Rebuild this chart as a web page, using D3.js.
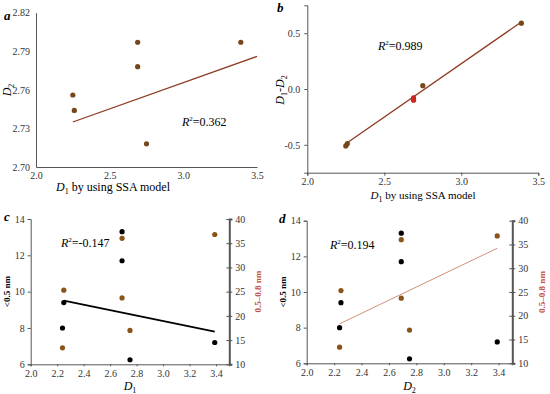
<!DOCTYPE html>
<html>
<head>
<meta charset="utf-8">
<script src="https://cdn.jsdelivr.net/npm/d3@7"></script>
<style>
  body { margin: 0; background: #fff; }
  svg text { font-family: "Liberation Serif", "DejaVu Serif", serif; }
  .axis path, .axis line { stroke: #555; }
  .axis text { fill: #333; font-size: 10px; }
</style>
</head>
<body>
<svg width="550" height="394"></svg>
<script>
// panel a / b : D1 (SSA) vs D2 and D1-D2
var aX = [2.25, 2.26, 2.69, 2.69, 2.75, 3.39];
var aY = [2.756, 2.744, 2.797, 2.778, 2.718, 2.797];
var aFit = [[2.25, 2.735], [3.5, 2.786]];
var bY = [-0.51, -0.49, -0.10, -0.08, 0.03, 0.59];
var bRed = [false, false, true, true, false, false];
var bFit = [[2.25, -0.49], [3.39, 0.60]];

// panel c / d : pore volume fractions
var cdX = [2.69, 2.69, 2.25, 2.24, 3.39, 2.75];
var small = [13.3, 11.7, 9.4, 8.0, 7.2, 6.25];   // <0.5 nm
var midX = [2.69, 3.39, 2.25, 2.69, 2.75, 2.24];
var mid = [36.0, 36.8, 25.3, 23.7, 17.0, 13.4];  // 0.5-0.8 nm
var cFit = [[2.25, 9.5], [3.39, 7.8]];
var dFit = [[2.24, 18.3], [3.39, 34.2]];

var ticksA = [2.70, 2.73, 2.76, 2.79, 2.82];
var ticksB = [-0.5, 0.0, 0.5];
var ticksX1 = [2.0, 2.5, 3.0, 3.5];
var ticksX2 = [2.0, 2.2, 2.4, 2.6, 2.8, 3.0, 3.2, 3.4];
var ticksL = [6, 8, 10, 12, 14];
var ticksR = [10, 15, 20, 25, 30, 35, 40];

var svg = d3.select("svg");
var dotCol = "#76461a";
var lineCol = "#8e3b22";

var fmt1 = (d) => d.toFixed(1);
var fmt2 = (d) => d.toFixed(2);

function fixFont(g) {
  g.attr("font-family", null);
}

function panelLetter(x, y, t) {
  svg.append("text").attr("x", x).attr("y", y)
    .attr("font-size", 13).attr("font-weight", "bold").attr("font-style", "italic")
    .text(t);
}

function subLabel(x, y, base, sub, rest, rot, size) {
  size = size || 12;
  var t = svg.append("text").attr("font-size", size).attr("text-anchor", "middle")
    .attr("transform", "translate(" + x + "," + y + ")" + (rot ? " rotate(-90)" : ""));
  t.append("tspan").attr("font-style", "italic").text(base);
  t.append("tspan").attr("font-size", 8).attr("dy", 3).text(sub);
  if (rest) t.append("tspan").attr("dy", -3).text(rest);
  return t;
}

function r2(x, y, val) {
  var t = svg.append("text").attr("x", x).attr("y", y).attr("font-size", 12);
  t.append("tspan").attr("font-style", "italic").text("R");
  t.append("tspan").attr("font-size", 7).attr("dy", -5).text("2");
  t.append("tspan").attr("dy", 5).text("=" + val);
}

function dots(xs, ys, sx, sy, col) {
  svg.append("g").selectAll("circle").data(xs).enter().append("circle")
    .attr("cx", (d) => sx(d))
    .attr("cy", (d, i) => sy(ys[i]))
    .attr("r", 2.6)
    .attr("fill", typeof col === "function" ? (d, i) => col(i) : col);
}

function fitLine(pts, sx, sy, col, w) {
  svg.append("line")
    .attr("x1", sx(pts[0][0])).attr("y1", sy(pts[0][1]))
    .attr("x2", sx(pts[1][0])).attr("y2", sy(pts[1][1]))
    .attr("stroke", col).attr("stroke-width", w);
}

// ---- panel a
var xa = d3.scaleLinear().domain([2.0, 3.5]).range([36, 257]);
var ya = d3.scaleLinear().domain([2.70, 2.82]).range([167, 12.7]);
svg.append("g").attr("class", "axis").attr("transform", "translate(0,167)")
  .call(d3.axisBottom(xa).tickValues(ticksX1).tickFormat(fmt1).tickSize(0).tickPadding(5))
  .call(fixFont);
svg.append("g").attr("class", "axis").attr("transform", "translate(36,0)")
  .call(d3.axisLeft(ya).tickValues(ticksA).tickFormat(fmt2).tickSize(0).tickPadding(6))
  .call(fixFont);
fitLine(aFit, xa, ya, lineCol, 1.3);
dots(aX, aY, xa, ya, dotCol);
r2(182, 126, "0.362");
panelLetter(4, 20, "a");
subLabel(11, 90, "D", "2", null, true);
subLabel(113, 191, "D", "1", " by using SSA model", false);

// ---- panel b
var xb = d3.scaleLinear().domain([2.0, 3.5]).range([307.3, 538.3]);
var yb = d3.scaleLinear().domain([-0.75, 0.75]).range([172.7, 5.3]);
svg.append("g").attr("class", "axis").attr("transform", "translate(0,172.7)")
  .call(d3.axisBottom(xb).tickValues(ticksX1).tickFormat(fmt1).tickSize(3).tickPadding(2))
  .call(fixFont);
svg.append("g").attr("class", "axis").attr("transform", "translate(307.3,0)")
  .call(d3.axisLeft(yb).tickValues(ticksB).tickFormat((d) => (d < 0 ? "-" : "") + Math.abs(d).toFixed(1)).tickSize(3).tickPadding(4))
  .call(fixFont);
fitLine(bFit, xb, yb, lineCol, 1.3);
dots(aX, bY, xb, yb, (i) => (bRed[i] ? "#c8281e" : dotCol));
r2(378, 50, "0.989");
panelLetter(277, 12, "b");
var lb = subLabel(284, 90, "D", "1", null, true);
lb.append("tspan").attr("dy", -3).text("-");
lb.append("tspan").attr("font-style", "italic").text("D");
lb.append("tspan").attr("font-size", 8).attr("dy", 3).text("2");
subLabel(423, 199, "D", "1", " by using SSA model", false, 11);

// ---- panels c and d
function lowerPanel(x0, x1, y0, y1, fit, fitCol, fitW, r2val, r2x, letterX, xsub, rLabX) {
  var sx = d3.scaleLinear().domain([2.0, 3.5]).range([x0, x1]);
  var syl = d3.scaleLinear().domain([6, 14]).range([y1, y0]);
  var syr = d3.scaleLinear().domain([10, 40]).range([y1, y0]);
  svg.append("g").attr("class", "axis").attr("transform", "translate(0," + y1 + ")")
    .call(d3.axisBottom(sx).tickValues(ticksX2).tickFormat(fmt1).tickSize(2).tickPadding(4))
    .call(fixFont)
    .select(".domain").attr("stroke", "#222");
  svg.append("g").attr("class", "axis").attr("transform", "translate(" + x0 + ",0)")
    .call(d3.axisLeft(syl).tickValues(ticksL).tickSize(3).tickPadding(3))
    .call(fixFont);
  var ra = svg.append("g").attr("class", "axis").attr("transform", "translate(" + x1 + ",0)")
    .call(d3.axisRight(syr).tickValues(ticksR).tickSize(3).tickPadding(3))
    .call(fixFont);
  ra.select(".domain").attr("stroke", "#b58470").attr("stroke-width", 2);
  ra.selectAll(".tick line").attr("stroke", "#b58470").attr("x1", -3);
  ra.selectAll(".tick text").attr("fill", "#d0605a");
  if (fitCol === "#000") fitLine(fit, sx, syl, fitCol, fitW);
  else fitLine(fit, sx, syr, fitCol, fitW);
  dots(cdX, small, sx, syl, "#000");
  dots(midX, mid, sx, syr, "#8a5418");
  r2(r2x, y0 + 28, r2val);
  panelLetter(letterX, y0 + 2, xsub === "1" ? "c" : "d");
  svg.append("text").attr("font-size", 9).attr("font-weight", "bold").attr("text-anchor", "middle")
    .attr("transform", "translate(" + (x0 - 21) + "," + ((y0 + y1) / 2) + ") rotate(-90)")
    .text("<0.5 nm");
  svg.append("text").attr("font-size", 9).attr("font-weight", "bold").attr("text-anchor", "middle")
    .attr("fill", "#c0504a")
    .attr("transform", "translate(" + rLabX + "," + ((y0 + y1) / 2) + ") rotate(-90)")
    .text("0.5\u20130.8 nm");
  subLabel((x0 + x1) / 2, 390, "D", xsub, null, false);
}

lowerPanel(30.7, 229.3, 219, 364.3, cFit, "#000", 1.8, "-0.147", 61, 4, "1", 261);
lowerPanel(306.7, 512.3, 220.7, 363.3, dFit, "#d0907a", 1, "0.194", 330, 279, "2", 545);
</script>
</body>
</html>
